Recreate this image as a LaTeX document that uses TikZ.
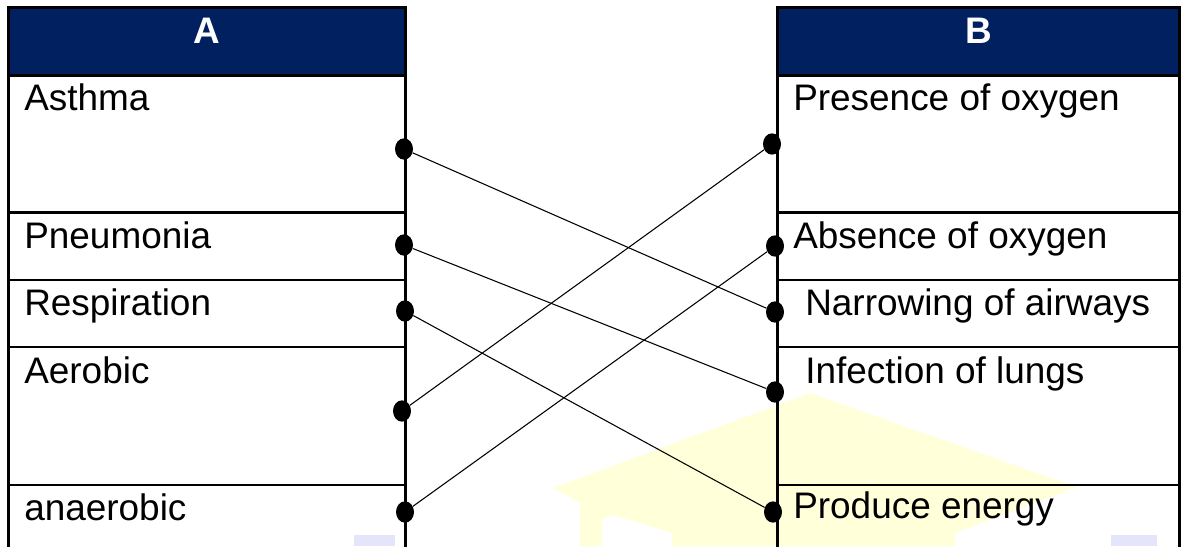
\documentclass[tikz,border=0pt]{standalone}
\usepackage{fontspec}
\setmainfont{Liberation Sans}
\usetikzlibrary{shapes.geometric}
\definecolor{navy}{RGB}{0,32,96}
\definecolor{wmyellow}{RGB}{255,255,218}
\definecolor{wmblue}{RGB}{228,228,250}
\begin{document}
\begin{tikzpicture}[x=0.75pt,y=-0.75pt,
  grid/.style={line width=2pt,draw=black},
  hdr/.style={fill=navy,draw=black,line width=2pt},
  lbl/.style={anchor=base west,inner sep=0pt,font=\fontsize{27.7}{32}\selectfont},
  head/.style={anchor=base,inner sep=0pt,text=white,font=\fontsize{27.7}{32}\selectfont\bfseries},
  dot/.style={ellipse,fill=black,inner sep=0pt,minimum width=13.5pt,minimum height=16pt},
  link/.style={line width=0.8pt,draw=black}]
\useasboundingbox (0,0) rectangle (1181,546);
\clip (0,0) rectangle (1181,546);
% faint watermark
\fill[wmyellow] (553,488) -- (810,393) -- (1077,487) -- (955,533) -- (955,546) -- (672,546) -- (672,533) -- (613,515) -- (602,520) -- (602,546) -- (580,546) -- (580,503) -- cycle;
\fill[wmblue] (354,535) rectangle (395,546);
\fill[wmblue] (1111,535) rectangle (1157,546);
% left table
\draw[hdr] (8.5,7.5) rectangle (405.5,75.5);
\draw[grid] (8.5,75.5) -- (8.5,560);
\draw[grid] (405.5,75.5) -- (405.5,560);
\foreach \yy in {212.7,280,347,485} \draw[grid] (8.5,\yy) -- (405.5,\yy);
% right table
\draw[hdr] (777.5,7.5) rectangle (1179.5,75.5);
\draw[grid] (777.5,75.5) -- (777.5,560);
\draw[grid] (1179.5,75.5) -- (1179.5,560);
\foreach \yy in {212.7,280,347,485} \draw[grid] (777.5,\yy) -- (1179.5,\yy);
% headers
\node[head] (hA) at (207,43) {A};
\node[head] (hB) at (978.5,43) {B};
% left labels
\node[lbl] (tA1) at (24,110) {Asthma};
\node[lbl] (tA2) at (24,248) {Pneumonia};
\node[lbl] (tA3) at (24,315) {Respiration};
\node[lbl] (tA4) at (24,383) {Aerobic};
\node[lbl] (tA5) at (24,520) {anaerobic};
% right labels
\node[lbl] (tB1) at (793,110) {Presence of oxygen};
\node[lbl] (tB2) at (793,248) {Absence of oxygen};
\node[lbl] (tB3) at (805,315) {Narrowing of airways};
\node[lbl] (tB4) at (805,383) {Infection of lungs};
\node[lbl] (tB5) at (793,518) {Produce energy};
% dots
\node[dot] (a1) at (404,149) {};
\node[dot] (a2) at (404,245) {};
\node[dot] (a3) at (405,311) {};
\node[dot] (a4) at (402,411) {};
\node[dot] (a5) at (405,512) {};
\node[dot] (b1) at (772,144) {};
\node[dot] (b2) at (775,246) {};
\node[dot] (b3) at (775,312) {};
\node[dot] (b4) at (775,392) {};
\node[dot] (b5) at (773,512) {};
% connectors
\draw[link] (a1) -- (b3);
\draw[link] (a2) -- (b4);
\draw[link] (a3) -- (b5);
\draw[link] (a4) -- (b1);
\draw[link] (a5) -- (b2);
\end{tikzpicture}
\end{document}
